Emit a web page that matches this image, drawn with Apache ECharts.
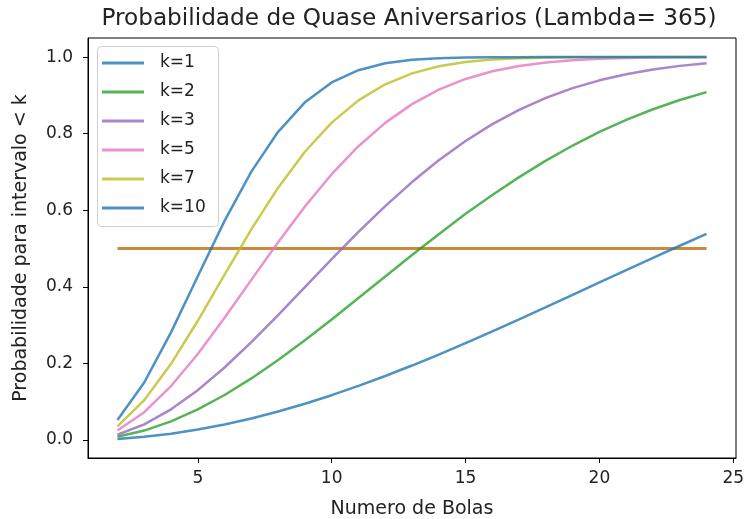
<!DOCTYPE html>
<html>
<head>
<meta charset="utf-8">
<script src="https://cdn.jsdelivr.net/npm/echarts@6/dist/echarts.min.js"></script>
<style>
  html, body { margin: 0; padding: 0; background: #fff; }
  #chart { width: 744px; height: 519px; }
</style>
</head>
<body>
<div id="chart"></div>
<script>
// Numero de bolas (n) no eixo x
const bolas = [2, 3, 4, 5, 6, 7, 8, 9, 10, 11, 12, 13, 14, 15, 16, 17, 18, 19, 20, 21, 22, 23, 24];

// Probabilidade de intervalo < k para cada k
const k1 = [0.00274, 0.00820, 0.01636, 0.02714, 0.04046, 0.05624, 0.07434, 0.09462, 0.11695, 0.14114, 0.16702, 0.19441, 0.22310, 0.25290, 0.28360, 0.31501, 0.34691, 0.37912, 0.41144, 0.44369, 0.47570, 0.50730, 0.53834];
const k2 = [0.00822, 0.02451, 0.04851, 0.07971, 0.11739, 0.16072, 0.20873, 0.26042, 0.31472, 0.37057, 0.42694, 0.48287, 0.53749, 0.59098, 0.63992, 0.68659, 0.72971, 0.76904, 0.80449, 0.83603, 0.86378, 0.88791, 0.90864];
const k3 = [0.01370, 0.04068, 0.07997, 0.13013, 0.18930, 0.25537, 0.32604, 0.39902, 0.47209, 0.54328, 0.61091, 0.67363, 0.73053, 0.78102, 0.82490, 0.86226, 0.89341, 0.91889, 0.93932, 0.95537, 0.96774, 0.97708, 0.98401];
const k5 = [0.02466, 0.07261, 0.14078, 0.22472, 0.31908, 0.41819, 0.51665, 0.60980, 0.69409, 0.76725, 0.82825, 0.87716, 0.91492, 0.94296, 0.96303, 0.97684, 0.98599, 0.99183, 0.99541, 0.99751, 0.99871, 0.99935, 0.99969];
const k7 = [0.03562, 0.10400, 0.19885, 0.31137, 0.43167, 0.55019, 0.65904, 0.75282, 0.82888, 0.88704, 0.92901, 0.95761, 0.97599, 0.98713, 0.99348, 0.99689, 0.99860, 0.99941, 0.99977, 0.99992, 0.99997, 0.99999, 1.00000];
const k10 = [0.05205, 0.15007, 0.28095, 0.42748, 0.57218, 0.70087, 0.80494, 0.88181, 0.93371, 0.96573, 0.98375, 0.99297, 0.99724, 0.99902, 0.99969, 0.99991, 0.99998, 1.00000, 1.00000, 1.00000, 1.00000, 1.00000, 1.00000];

// Linha de referencia em 0.5
const referencia = [0.5, 0.5];
const referenciaX = [2, 24];

const nomes = ['k=1', 'k=2', 'k=3', 'k=5', 'k=7', 'k=10'];
const valores = [k1, k2, k3, k5, k7, k10];
const cores = ['#1f77b4', '#2ca02c', '#9467bd', '#e377c2', '#bcbd22', '#1f77b4'];

const xTicks = [5, 10, 15, 20, 25];
const yTicks = [0, 0.2, 0.4, 0.6, 0.8, 1.0];

const FONT = 'DejaVu Sans';

const chart = echarts.init(document.getElementById('chart'), null, { renderer: 'canvas' });

const series = [{
  name: 'ref',
  type: 'line',
  data: referenciaX.map((x, i) => [x, referencia[i]]),
  symbol: 'none',
  lineStyle: { color: '#cd893b', width: 3 },
  z: 1,
  silent: true
}];
valores.forEach((arr, j) => {
  series.push({
    name: nomes[j],
    type: 'line',
    data: bolas.map((n, i) => [n, arr[i]]),
    symbol: 'none',
    color: cores[j],
    itemStyle: { color: cores[j], opacity: 0.8 },
    lineStyle: { color: cores[j], width: 2.5, opacity: 0.8 },
    z: 2 + j
  });
});

chart.setOption({
  animation: false,
  backgroundColor: '#fff',
  title: {
    text: 'Probabilidade de Quase Aniversarios (Lambda= 365)',
    left: 409,
    top: 7,
    padding: 0,
    textAlign: 'center',
    textStyle: { fontFamily: FONT, fontSize: 23.2, fontWeight: 'normal', color: '#222' }
  },
  // caixa da legenda
  graphic: [{
    type: 'rect',
    z: 0,
    shape: { x: 97.5, y: 46.5, width: 121, height: 180, r: 4 },
    style: { fill: 'rgba(255,255,255,0.8)', stroke: '#d0d0d0', lineWidth: 1 }
  }],
  legend: {
    data: nomes,
    orient: 'vertical',
    left: 97,
    top: 46,
    padding: [7, 0, 8, 5],
    icon: 'rect',
    itemWidth: 42,
    itemHeight: 3,
    itemGap: 9,
    itemStyle: { opacity: 0.8 },
    textStyle: { fontFamily: FONT, fontSize: 17, lineHeight: 20, color: '#222', padding: [0, 0, 0, 11] }
  },
  grid: {
    left: 88, right: 8, top: 38, bottom: 61,
    show: true, borderColor: '#000', borderWidth: 1,
    containLabel: false,
    outerBoundsMode: 'none'
  },
  xAxis: {
    type: 'value',
    min: 0.9,
    max: 25.1,
    name: 'Numero de Bolas',
    nameLocation: 'middle',
    nameGap: 42,
    nameTextStyle: { fontFamily: FONT, fontSize: 19, color: '#222' },
    splitLine: { show: false },
    axisLine: { show: true, onZero: false, lineStyle: { color: '#000', width: 1 } },
    axisTick: { show: true, length: 5, customValues: xTicks, lineStyle: { color: '#000' } },
    axisLabel: {
      customValues: xTicks, margin: 12,
      fontFamily: FONT, fontSize: 17, color: '#222',
      formatter: v => String(v)
    }
  },
  yAxis: {
    type: 'value',
    min: -0.0471,
    max: 1.0499,
    name: 'Probabilidade para intervalo < k',
    nameLocation: 'middle',
    nameGap: 57,
    nameTextStyle: { fontFamily: FONT, fontSize: 19, color: '#222' },
    splitLine: { show: false },
    axisLine: { show: true, onZero: false, lineStyle: { color: '#000', width: 1 } },
    axisTick: { show: true, length: 5, customValues: yTicks, lineStyle: { color: '#000' } },
    axisLabel: {
      customValues: yTicks, margin: 15,
      fontFamily: FONT, fontSize: 17, color: '#222',
      formatter: v => v.toFixed(1)
    }
  },
  series: series
});
</script>
</body>
</html>
